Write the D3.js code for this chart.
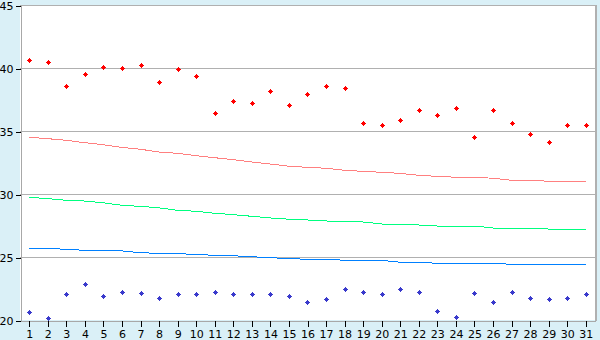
<!DOCTYPE html>
<html>
<head>
<meta charset="utf-8">
<script src="https://cdn.jsdelivr.net/npm/d3@7"></script>
<style>
    html, body { margin: 0; padding: 0; background: #daf0f7; }
    svg { display: block; }
    text { font-family: "DejaVu Sans", Verdana, sans-serif; font-size: 11px; fill: #000; }
</style>
</head>
<body>
<div id="chart"></div>
<script>
(function () {
    'use strict';

    var days = d3.range(1, 32).map(String);

    var yTicks = [20, 25, 30, 35, 40, 45];

    var redPoints = [40.6, 40.5, 38.6, 39.5, 40.1, 40.0, 40.2, 38.9, 39.9, 39.4,
                     36.4, 37.4, 37.2, 38.2, 37.1, 37.9, 38.6, 38.4, 35.6, 35.5,
                     35.85, 36.65, 36.25, 36.8, 34.5, 36.65, 35.6, 34.8, 34.1, 35.45, 35.45];

    var bluePoints = [20.6, 20.13, 22.04, 22.83, 21.88, 22.2, 22.12, 21.72, 22.04, 22.04,
                      22.2, 22.04, 22.04, 22.04, 21.88, 21.4, 21.64, 22.44, 22.2, 22.04,
                      22.44, 22.2, 20.7, 20.2, 22.12, 21.4, 22.2, 21.72, 21.64, 21.72, 22.04];

    var redLine = [34.5, 34.39, 34.26, 34.07, 33.91, 33.7, 33.55, 33.33, 33.23, 33.04,
                   32.88, 32.72, 32.54, 32.38, 32.2, 32.12, 32.04, 31.88, 31.8, 31.72,
                   31.64, 31.48, 31.4, 31.33, 31.33, 31.25, 31.09, 31.09, 31.01, 31.01, 31.0];

    var greenLine = [29.74, 29.63, 29.5, 29.44, 29.3, 29.1, 29.02, 28.9, 28.7, 28.63,
                     28.47, 28.36, 28.23, 28.1, 28.0, 27.94, 27.86, 27.78, 27.78, 27.62,
                     27.54, 27.54, 27.46, 27.46, 27.46, 27.3, 27.3, 27.3, 27.22, 27.22, 27.22];

    var blueLine = [25.69, 25.68, 25.61, 25.53, 25.53, 25.48, 25.34, 25.29, 25.26, 25.21,
                    25.13, 25.1, 25.02, 24.95, 24.87, 24.82, 24.82, 24.74, 24.74, 24.74,
                    24.58, 24.58, 24.5, 24.5, 24.5, 24.5, 24.42, 24.42, 24.42, 24.42, 24.42];

    var width = 600,
        height = 340,
        margin = { left: 20, top: 5, right: 5, bottom: 20 };

    var svg = d3.select("#chart").append("svg")
        .attr("width", width)
        .attr("height", height);

    svg.append("rect")
        .attr("width", width)
        .attr("height", height)
        .attr("fill", "#daf0f7");

    var x = d3.scaleBand()
        .domain(days)
        .range([margin.left, width - margin.right]);

    var y = d3.scaleLinear()
        .domain([20, 45])
        .range([height - margin.bottom, margin.top]);

    function cx(d, i) { return x(days[i]) + x.bandwidth() / 2; }

    // plot area
    svg.append("rect")
        .attr("x", margin.left)
        .attr("y", margin.top)
        .attr("width", width - margin.left - margin.right)
        .attr("height", height - margin.top - margin.bottom)
        .attr("fill", "#fff");

    // gridlines
    svg.append("g")
        .selectAll("line")
        .data(yTicks.slice(1))
        .join("line")
        .attr("x1", margin.left)
        .attr("x2", width - margin.right)
        .attr("y1", function (d) { return Math.round(y(d)) + 0.5; })
        .attr("y2", function (d) { return Math.round(y(d)) + 0.5; })
        .attr("stroke", "#b0b0b0")
        .attr("shape-rendering", "crispEdges");

    // right border
    svg.append("line")
        .attr("x1", width - margin.right + 0.5)
        .attr("x2", width - margin.right + 0.5)
        .attr("y1", margin.top)
        .attr("y2", height - margin.bottom + 1)
        .attr("stroke", "#b0b0b0")
        .attr("stroke-width", 2)
        .attr("shape-rendering", "crispEdges");

    // y axis
    var yAxis = svg.append("g")
        .attr("transform", "translate(" + (margin.left + 0.5) + ",0.5)")
        .call(d3.axisLeft(y).tickValues(yTicks).tickSize(5).tickPadding(2));

    yAxis.select(".domain").attr("stroke", "#a8a8a8").attr("shape-rendering", "crispEdges");
    yAxis.selectAll(".tick line").attr("stroke", "#000").attr("shape-rendering", "crispEdges");
    yAxis.selectAll(".tick text").attr("font-size", 12).attr("font-family", "DejaVu Sans");

    // x axis
    var xAxis = svg.append("g")
        .attr("transform", "translate(0.5," + (height - margin.bottom + 0.5) + ")")
        .call(d3.axisBottom(x).tickSize(6).tickPadding(4).tickSizeOuter(0));

    xAxis.select(".domain").attr("stroke", "#a8a8a8").attr("shape-rendering", "crispEdges");
    xAxis.selectAll(".tick line").attr("stroke", "#000").attr("shape-rendering", "crispEdges");
    xAxis.selectAll(".tick text").attr("font-size", 12).attr("font-family", "DejaVu Sans");

    // trend lines
    var line = d3.line()
        .x(cx)
        .y(function (d) { return y(d); });

    [[redLine, "#ff8080"], [greenLine, "#00ff80"], [blueLine, "#0080ff"]].forEach(function (s) {
        svg.append("path")
            .datum(s[0])
            .attr("fill", "none")
            .attr("stroke", s[1])
            .attr("stroke-width", 1)
            .attr("shape-rendering", "crispEdges")
            .attr("d", line);
    });

    // markers: small 5px pixel cross
    var marker = "M-0.5,-2.5H0.5V-1.5H1.5V-0.5H2.5V0.5H1.5V1.5H0.5V2.5H-0.5V1.5H-1.5V0.5H-2.5V-0.5H-1.5V-1.5H-0.5Z";

    [[redPoints, "#ff0000"], [bluePoints, "#3a3acc"]].forEach(function (s) {
        svg.append("g")
            .selectAll("path")
            .data(s[0])
            .join("path")
            .attr("d", marker)
            .attr("transform", function (d, i) {
                return "translate(" + (Math.round(cx(d, i)) + 0.5) + "," + (Math.round(y(d)) + 0.5) + ")";
            })
            .attr("fill", s[1])
            .attr("shape-rendering", "crispEdges");
    });

})();
</script>
</body>
</html>
